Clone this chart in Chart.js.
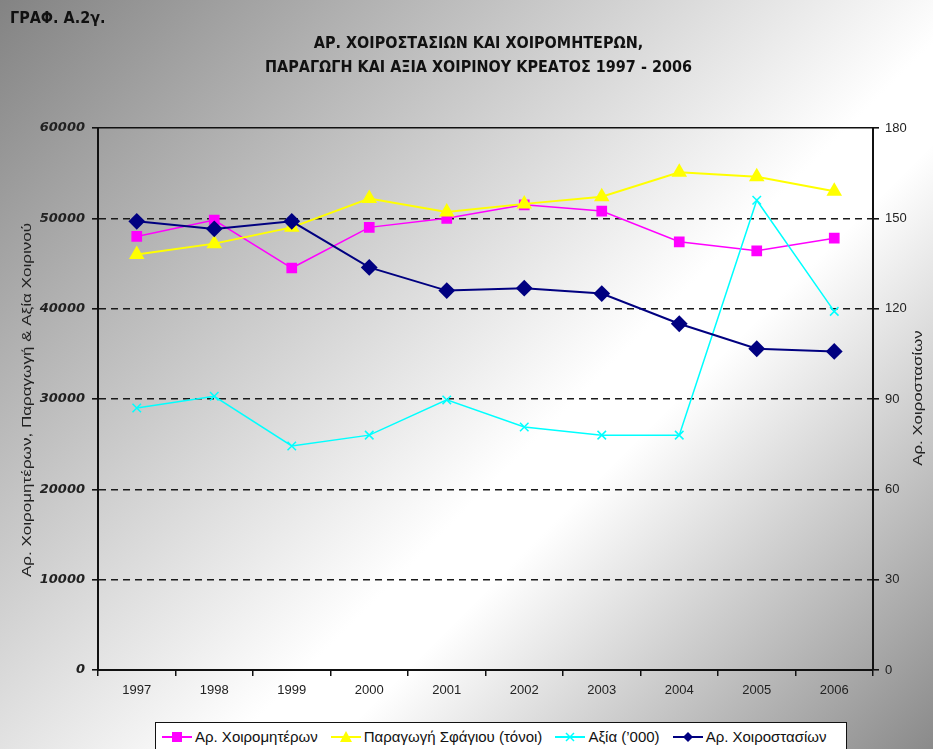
<!DOCTYPE html>
<html>
<head>
<meta charset="utf-8">
<script src="https://cdn.jsdelivr.net/npm/chart.js@4.4.0/dist/chart.umd.min.js"></script>
<style>
    body { margin: 0; }
    #wrap {
        position: relative; width: 933px; height: 749px; overflow: hidden;
        background: linear-gradient(135deg, #838383 0%, #ffffff 58%, #ffffff 64%, #8a8a8a 100%);
        font-family: 'Liberation Sans', Arial, sans-serif;
    }
    #fig { position: absolute; left: 10px; top: 8px; font: bold 16px 'Liberation Sans Narrow', 'DejaVu Sans Condensed', sans-serif; color: #111; }
    #title { position: absolute; left: 12px; width: 933px; top: 31px; text-align: center; font: bold 16px 'Liberation Sans Narrow', 'DejaVu Sans Condensed', sans-serif; line-height: 24px; color: #111; }
    #chartBox { position: absolute; left: 0; top: 0; width: 933px; height: 749px; }
    #legend {
        position: absolute; left: 155px; top: 722px; width: 692px; height: 40px;
        background: #fff; border: 1.5px solid #111; box-sizing: border-box;
        display: flex; align-items: flex-start; padding: 5px 0 0 6px; gap: 13px;
        font-size: 15px; color: #111;
    }
    #legend .item { display: flex; align-items: center; gap: 3px; white-space: nowrap; }
</style>
</head>
<body>
<div id="wrap">
    <div id="chartBox"><canvas id="pigChart"></canvas></div>
    <div id="fig">ΓΡΑΦ. Α.2γ.</div>
    <div id="title">ΑΡ. ΧΟΙΡΟΣΤΑΣΙΩΝ ΚΑΙ ΧΟΙΡΟΜΗΤΕΡΩΝ,<br>ΠΑΡΑΓΩΓΗ ΚΑΙ ΑΞΙΑ ΧΟΙΡΙΝΟΥ ΚΡΕΑΤΟΣ 1997 - 2006</div>
    <div id="legend"></div>
</div>
<script>
    const years = ['1997', '1998', '1999', '2000', '2001', '2002', '2003', '2004', '2005', '2006'];

    // left axis series
    const sows = [48000, 49800, 44500, 49000, 50000, 51500, 50800, 47400, 46400, 47800];
    const production = [46000, 47200, 49000, 52200, 50700, 51600, 52400, 55100, 54600, 53000];
    const valueK = [29000, 30300, 24800, 26000, 29900, 26900, 26000, 26000, 52000, 39700];
    // right axis series
    const farms = [149, 146.5, 149, 133.7, 126, 126.8, 125, 115, 106.7, 105.8];

    const leftTicks = [0, 10000, 20000, 30000, 40000, 50000, 60000];
    const rightTicks = [0, 30, 60, 90, 120, 150, 180];

    const seriesNames = ['Αρ. Χοιρομητέρων', 'Παραγωγή Σφάγιου (τόνοι)', 'Αξία (’000)', 'Αρ. Χοιροστασίων'];
    const leftTitle = 'Αρ. Χοιρομητέρων, Παραγωγή & Αξία Χοιρινού';
    const rightTitle = 'Αρ. Χοιροστασίων';

    const fontFamily = "'Liberation Sans', Arial, sans-serif";

    const datasets = [
        { label: seriesNames[0], data: sows, yAxisID: 'y', borderColor: '#ff00ff', backgroundColor: '#ff00ff',
          pointStyle: 'rect', pointRadius: 6.5, borderWidth: 1.5, order: 4 },
        { label: seriesNames[1], data: production, yAxisID: 'y', borderColor: '#ffff00', backgroundColor: '#ffff00',
          pointStyle: 'triangle', pointRadius: 7, borderWidth: 2, order: 3 },
        { label: seriesNames[2], data: valueK, yAxisID: 'y', borderColor: '#00ffff', backgroundColor: '#00ffff',
          pointStyle: 'crossRot', pointRadius: 6, pointBorderWidth: 1.5, borderWidth: 1.5, order: 2 },
        { label: seriesNames[3], data: farms, yAxisID: 'y1', borderColor: '#000080', backgroundColor: '#000080',
          pointStyle: 'rectRot', pointRadius: 7, borderWidth: 2, order: 1 }
    ];
    datasets.forEach(ds => { ds.tension = 0; ds.pointHoverRadius = ds.pointRadius; });

    // rotated axis titles, stretched along the text like the source image
    function drawVertical(c, text, x, y, stretch) {
        c.save();
        c.fillStyle = '#222';
        c.font = '12px ' + fontFamily;
        c.textAlign = 'center';
        c.textBaseline = 'middle';
        c.translate(x, y);
        c.rotate(-Math.PI / 2);
        c.scale(stretch, 1);
        c.fillText(text, 0, 0);
        c.restore();
    }
    const axisTitles = {
        id: 'axisTitles',
        afterDraw(chart) {
            drawVertical(chart.ctx, leftTitle, 28, 400, 1.42);
            drawVertical(chart.ctx, rightTitle, 919, 398, 1.4);
        }
    };

    const ctx = document.getElementById('pigChart').getContext('2d');
    const pigChart = new Chart(ctx, {
        type: 'line',
        data: { labels: years, datasets: datasets },
        options: {
            responsive: true,
            maintainAspectRatio: false,
            animation: false,
            layout: { padding: { top: 128, left: 0, right: 0, bottom: 0 } },
            plugins: { legend: { display: false }, title: { display: false }, tooltip: { enabled: false } },
            scales: {
                x: {
                    offset: true,
                    grid: { offset: true, drawOnChartArea: false, color: '#111', tickLength: 6, lineWidth: 1.5 },
                    border: { color: '#111', width: 2 },
                    ticks: { color: '#222', font: { size: 13, family: fontFamily }, padding: 7, maxRotation: 0 },
                    afterFit: s => { s.height = 79; }
                },
                y: {
                    position: 'left',
                    min: leftTicks[0],
                    max: leftTicks[leftTicks.length - 1],
                    afterBuildTicks: s => { s.ticks = leftTicks.map(v => ({ value: v })); },
                    ticks: {
                        color: '#222', padding: 7,
                        font: { size: 13, style: 'italic', weight: 'bold', family: "'DejaVu Sans', sans-serif" },
                        callback: v => String(v)
                    },
                    grid: {
                        color: c => (c.tick && (c.tick.value === leftTicks[0] || c.tick.value === leftTicks[leftTicks.length - 1])) ? 'rgba(0,0,0,0)' : '#1a1a1a',
                        tickColor: '#111', tickLength: 6, lineWidth: 1.6
                    },
                    border: { dash: [7, 5], color: '#111', width: 2 },
                    afterFit: s => { s.width = 98; }
                },
                y1: {
                    position: 'right',
                    min: rightTicks[0],
                    max: rightTicks[rightTicks.length - 1],
                    afterBuildTicks: s => { s.ticks = rightTicks.map(v => ({ value: v })); },
                    ticks: { color: '#222', font: { size: 13, family: fontFamily }, padding: 6, callback: v => String(v) },
                    grid: {
                        color: c => (c.tick && c.tick.value === rightTicks[rightTicks.length - 1]) ? '#111' : 'rgba(0,0,0,0)',
                        tickColor: '#111', tickLength: 6, lineWidth: 1.6
                    },
                    border: { color: '#111', width: 2 },
                    afterFit: s => { s.width = 60; }
                }
            }
        },
        plugins: [axisTitles]
    });

    // legend with line + marker samples
    function markerSvg(ds) {
        const col = ds.borderColor;
        let mark = '';
        if (ds.pointStyle === 'rect') mark = `<rect x="10" y="2" width="10" height="10" fill="${col}"/>`;
        if (ds.pointStyle === 'triangle') mark = `<polygon points="15,1 21,12 9,12" fill="${col}"/>`;
        if (ds.pointStyle === 'crossRot') mark = `<path d="M11 3 L19 11 M19 3 L11 11" stroke="${col}" stroke-width="1.5"/>`;
        if (ds.pointStyle === 'rectRot') mark = `<polygon points="15,2 20,7 15,12 10,7" fill="${col}"/>`;
        return `<svg width="30" height="14"><line x1="0" y1="7" x2="30" y2="7" stroke="${col}" stroke-width="2"/>${mark}</svg>`;
    }
    const $legend = document.getElementById('legend');
    datasets.forEach(ds => {
        const item = document.createElement('div');
        item.className = 'item';
        item.innerHTML = markerSvg(ds) + '<span>' + ds.label + '</span>';
        $legend.appendChild(item);
    });
</script>
</body>
</html>
